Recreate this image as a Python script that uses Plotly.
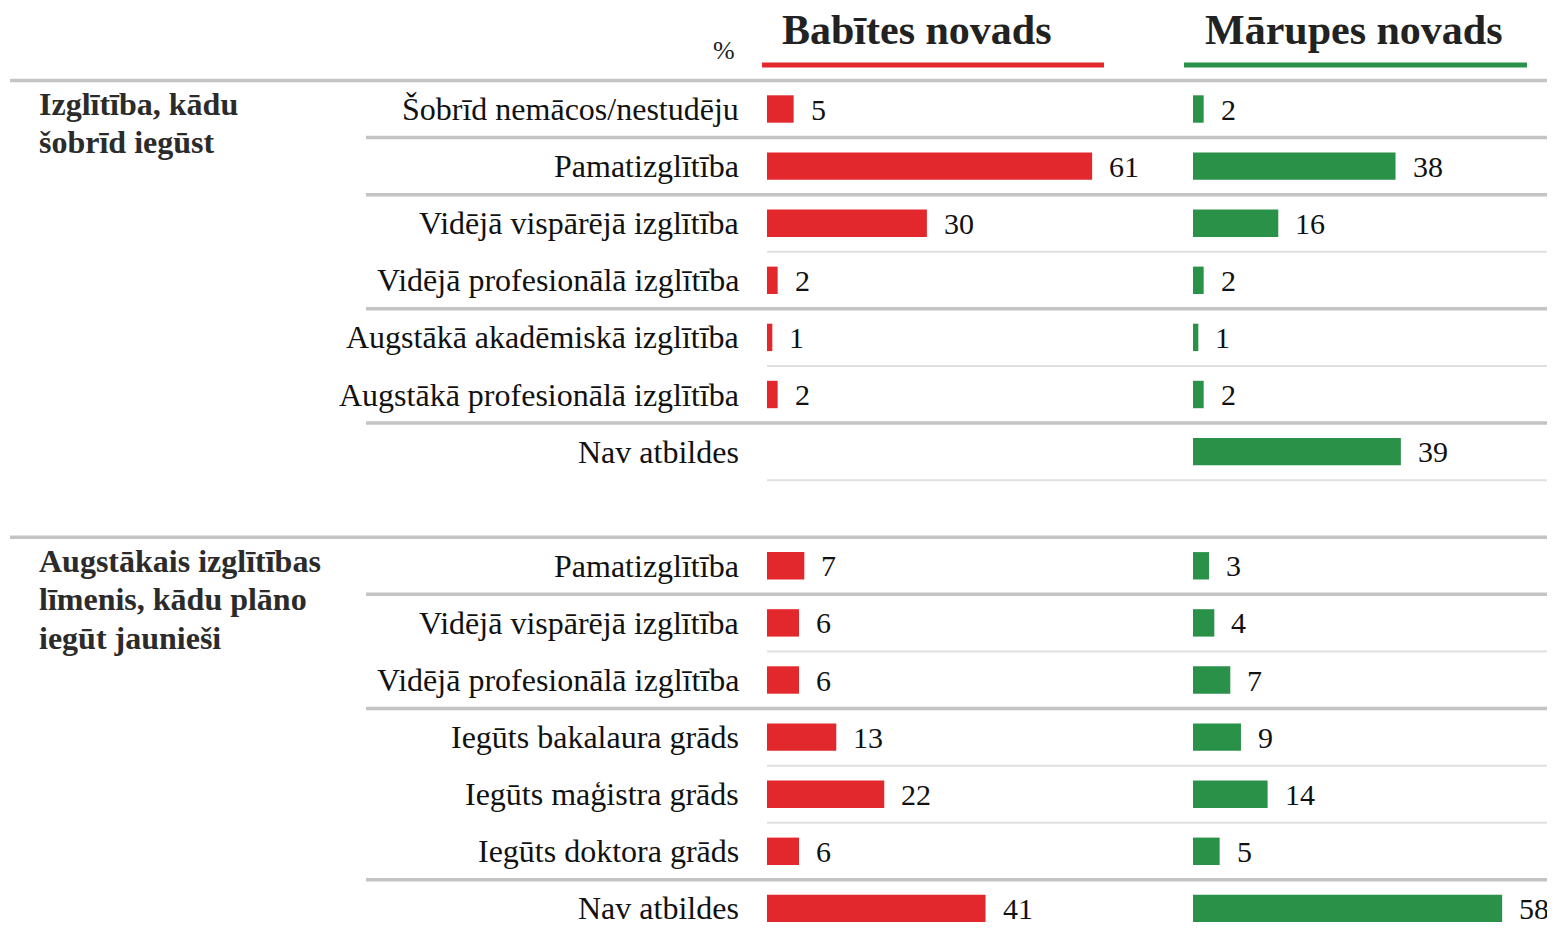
import plotly.graph_objects as go

# ---------------- data ----------------
group_titles = [["Izglītība, kādu", "šobrīd iegūst"],
                ["Augstākais izglītības", "līmenis, kādu plāno", "iegūt jaunieši"]]

labels_1 = ["Šobrīd nemācos/nestudēju", "Pamatizglītība", "Vidējā vispārējā izglītība",
            "Vidējā profesionālā izglītība", "Augstākā akadēmiskā izglītība",
            "Augstākā profesionālā izglītība", "Nav atbildes"]
babites_1 = [5, 61, 30, 2, 1, 2, None]
marupes_1 = [2, 38, 16, 2, 1, 2, 39]

labels_2 = ["Pamatizglītība", "Vidējā vispārējā izglītība", "Vidējā profesionālā izglītība",
            "Iegūts bakalaura grāds", "Iegūts maģistra grāds", "Iegūts doktora grāds",
            "Nav atbildes"]
babites_2 = [7, 6, 6, 13, 22, 6, 41]
marupes_2 = [3, 4, 7, 9, 14, 5, 58]

series_names = ["Babītes novads", "Mārupes novads"]
unit_label = "%"

# ---------------- layout helpers ----------------
OFF = 8                      # page body margin: figure starts 8px in from the window corner
W, H = 1555 - OFF, 930 - OFF
RED = "#e2282d"
GREEN = "#2a9149"
SERIF = "Liberation Serif, Times New Roman, serif"


def px(x):
    """window pixel x -> paper fraction"""
    return (x - OFF) / W


def py(y):
    """window pixel y (from top) -> paper fraction"""
    return 1 - (y - OFF) / H


labels = labels_1 + [""] + labels_2
bab = babites_1 + [None] + babites_2
mar = marupes_1 + [None] + marupes_2
ypos = list(range(len(labels)))

px_per_unit = 5.33
bx0, bx1 = 767, 1180
mx0, mx1 = 1193, 1555
row0_px, row_px = 109 - OFF, 57.1
y_top = -row0_px / row_px
y_bot = (H - row0_px) / row_px

fig = go.Figure()
fig.add_trace(go.Bar(x=bab, y=ypos, orientation="h", marker=dict(color=RED, line=dict(width=0)),
                     width=0.48, xaxis="x", yaxis="y", hoverinfo="skip"))
fig.add_trace(go.Bar(x=mar, y=ypos, orientation="h", marker=dict(color=GREEN, line=dict(width=0)),
                     width=0.48, xaxis="x2", yaxis="y", hoverinfo="skip"))

ann = []
# row labels
for k, lab in enumerate(labels):
    if lab:
        ann.append(dict(x=px(741), xref="paper", y=k, yref="y", text=lab, showarrow=False,
                        xanchor="right", yanchor="middle",
                        font=dict(family=SERIF, size=32, color="#111111")))
# value labels
for k, v in enumerate(bab):
    if v is not None:
        ann.append(dict(x=v, xref="x", y=k, yref="y", text=str(v), showarrow=False,
                        xanchor="left", yanchor="middle", xshift=15,
                        font=dict(family=SERIF, size=30, color="#111111")))
for k, v in enumerate(mar):
    if v is not None:
        ann.append(dict(x=v, xref="x2", y=k, yref="y", text=str(v), showarrow=False,
                        xanchor="left", yanchor="middle", xshift=15,
                        font=dict(family=SERIF, size=30, color="#111111")))
# group titles
for g, start_row in zip(group_titles, [0, 8]):
    for i, line in enumerate(g):
        ann.append(dict(x=px(37), xref="paper", y=py(start_row * row_px + 109 - 5 + 38.5 * i),
                        yref="paper", text="<b>" + line + "</b>", showarrow=False, xanchor="left",
                        yanchor="middle", font=dict(family=SERIF, size=32, color="#2b2b2b")))
# headers
for name, cx in zip(series_names, [917, 1354]):
    ann.append(dict(x=px(cx), xref="paper", y=py(30), yref="paper", text="<b>" + name + "</b>",
                    showarrow=False, xanchor="center", yanchor="middle",
                    font=dict(family=SERIF, size=42, color="#222222")))
ann.append(dict(x=px(724), xref="paper", y=py(51), yref="paper", text=unit_label, showarrow=False,
                xanchor="center", yanchor="middle", font=dict(family=SERIF, size=26, color="#222222")))

shapes = []
# header underlines
for x0, x1, c in [(762, 1104, RED), (1184, 1527, GREEN)]:
    shapes.append(dict(type="line", xref="paper", yref="paper", x0=px(x0), x1=px(x1),
                       y0=py(65), y1=py(65), line=dict(color=c, width=5)))
# separators: (boundary position, start pixel, style)
sep_styles = {"thick": dict(color="#c4c4c4", width=3.5), "thin": dict(color="#e0e0e0", width=2)}
separators = [(-0.5, 10, "thick"), (0.5, 366, "thick"), (1.5, 366, "thick"), (2.5, 767, "thin"),
              (3.5, 366, "thick"), (4.5, 767, "thin"), (5.5, 366, "thick"), (6.5, 767, "thin"),
              (7.5, 10, "thick"), (8.5, 366, "thick"), (9.5, 767, "thin"), (10.5, 366, "thick"),
              (11.5, 767, "thin"), (12.5, 767, "thin"), (13.5, 366, "thick")]
for yb, xs, st in separators:
    shapes.append(dict(type="line", xref="paper", yref="y", x0=px(xs), x1=1, y0=yb, y1=yb,
                       line=sep_styles[st], layer="below"))

axis_common = dict(showgrid=False, zeroline=False, showticklabels=False, showline=False,
                   fixedrange=True, ticks="")
fig.update_layout(
    width=W, height=H, margin=dict(l=0, r=0, t=0, b=0),
    paper_bgcolor="white", plot_bgcolor="rgba(0,0,0,0)",
    showlegend=False, barmode="overlay",
    xaxis=dict(domain=[px(bx0), px(bx1)], range=[0, (bx1 - bx0) / px_per_unit], **axis_common),
    xaxis2=dict(domain=[px(mx0), 1], range=[0, (mx1 - mx0) / px_per_unit], anchor="y",
                **axis_common),
    yaxis=dict(domain=[0, 1], range=[y_bot, y_top], **axis_common),
    annotations=ann, shapes=shapes,
)

fig.write_html("out.html")
